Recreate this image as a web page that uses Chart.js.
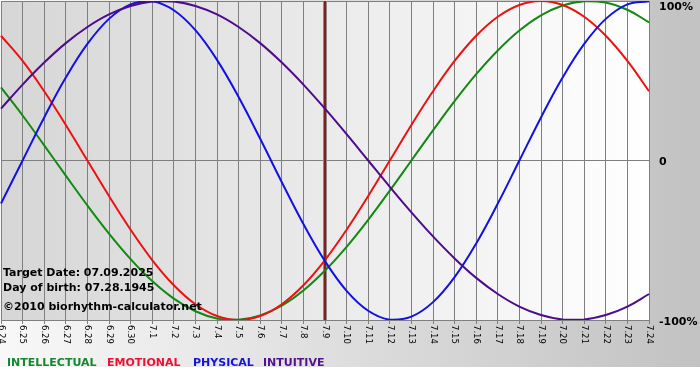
<!DOCTYPE html>
<html>
<head>
<meta charset="utf-8">
<script src="https://cdn.jsdelivr.net/npm/chart.js@4/dist/chart.umd.min.js"></script>
<style>
html,body{margin:0;padding:0;background:#fff;}
canvas{display:block;}
</style>
</head>
<body>
<canvas id="c" width="700" height="380"></canvas>
<script>
const labels = ['6.24','6.25','6.26','6.27','6.28','6.29','6.30','7.1','7.2','7.3','7.4','7.5','7.6','7.7','7.8','7.9','7.10','7.11','7.12','7.13','7.14','7.15','7.16','7.17','7.18','7.19','7.20','7.21','7.22','7.23','7.24'];
const physical = [-27.0, 0, 27.0, 52.0, 73.1, 88.8, 97.9, 99.8, 94.2, 81.7, 63.1, 39.8, 13.6, -13.6, -39.8, -63.1, -81.7, -94.2, -99.8, -97.9, -88.8, -73.1, -52.0, -27.0, 0, 27.0, 52.0, 73.1, 88.8, 97.9, 99.8];
const emotional = [78.2, 62.4, 43.4, 22.3, 0, -22.3, -43.4, -62.4, -78.2, -90.1, -97.5, -100, -97.5, -90.1, -78.2, -62.4, -43.4, -22.3, 0, 22.3, 43.4, 62.4, 78.2, 90.1, 97.5, 100, 97.5, 90.1, 78.2, 62.4, 43.4];
const intellectual = [45.8, 28.2, 9.5, -9.5, -28.2, -45.8, -61.8, -75.6, -86.6, -94.5, -99.0, -99.9, -97.2, -91.0, -81.5, -69.0, -54.1, -37.2, -18.9, 0, 18.9, 37.2, 54.1, 69.0, 81.5, 91.0, 97.2, 99.9, 99.0, 94.5, 86.6];
const intuitive = [32.5, 47.6, 61.4, 73.6, 83.7, 91.6, 96.9, 99.7, 99.7, 96.9, 91.6, 83.7, 73.6, 61.4, 47.6, 32.5, 16.5, 0, -16.5, -32.5, -47.6, -61.4, -73.6, -83.7, -91.6, -96.9, -99.7, -99.7, -96.9, -91.6, -83.7];
const yTickValues = [100, 0, -100];
const yTickLabels = ['100%', '0', '-100%'];
const targetLabel = '7.9';
const infoLines = ['Target Date: 07.09.2025', 'Day of birth: 07.28.1945', '\u00A92010 biorhythm-calculator.net'];
const legendNames = ['INTELLECTUAL', 'EMOTIONAL', 'PHYSICAL', 'INTUITIVE'];

const COL = {
  intellectual: '#128a12',
  emotional: '#ee1111',
  physical: '#1212e6',
  intuitive: '#4e0c8c'
};
const LEGCOL = ['#14882e', '#ee1133', '#1414dd', '#52128c'];
const legendX = [7, 107, 193, 263];

const bgPlugin = {
  id: 'bg',
  beforeDraw(chart) {
    const ctx = chart.ctx, a = chart.chartArea;
    ctx.save();
    ctx.fillStyle = '#ffffff';
    ctx.fillRect(0, 0, chart.width, chart.height);
    const g = ctx.createLinearGradient(0, 0, chart.width, 0);
    g.addColorStop(0, '#f8f8f8');
    g.addColorStop(1, '#c2c2c2');
    ctx.fillStyle = g;
    ctx.fillRect(0, 0, chart.width, 367);
    const g2 = ctx.createLinearGradient(a.left, 0, a.right, 0);
    g2.addColorStop(0, '#d6d6d6');
    g2.addColorStop(1, '#ffffff');
    ctx.fillStyle = g2;
    ctx.fillRect(a.left, a.top, a.right - a.left, a.bottom - a.top);
    ctx.restore();
  },
  beforeDatasetsDraw(chart) {
    const ctx = chart.ctx, a = chart.chartArea;
    const xs = chart.scales.x;
    const px = Math.round(xs.getPixelForValue(labels.indexOf(targetLabel)));
    ctx.save();
    ctx.fillStyle = '#8a8a8a';
    ctx.fillRect(px - 2, a.top, 4, a.bottom - a.top);
    ctx.fillStyle = '#861c1c';
    ctx.fillRect(px - 1, a.top, 2, a.bottom - a.top);
    ctx.restore();
  },
  afterDraw(chart) {
    const ctx = chart.ctx, a = chart.chartArea;
    const xs = chart.scales.x, ys = chart.scales.y;
    ctx.save();
    // x tick labels, rotated to read top-down
    ctx.fillStyle = '#000';
    ctx.font = '8.5px "DejaVu Sans", Verdana, sans-serif';
    ctx.textAlign = 'left';
    ctx.textBaseline = 'middle';
    labels.forEach((lb, i) => {
      const x = xs.getPixelForTick(i);
      ctx.save();
      ctx.translate(x, a.bottom + 5);
      ctx.rotate(Math.PI / 2);
      ctx.fillText(lb, 0, 0);
      ctx.restore();
    });
    // y labels on the right
    ctx.font = 'bold 11px "DejaVu Sans", Verdana, sans-serif';
    ctx.textBaseline = 'middle';
    yTickValues.forEach((v, i) => {
      let y = ys.getPixelForValue(v) + 2;
      if (y < 7) y = 7;
      ctx.fillText(yTickLabels[i], a.right + 10, y);
    });
    // info text
    ctx.textBaseline = 'alphabetic';
    ctx.fillText(infoLines[0], 3, 276);
    ctx.fillText(infoLines[1], 3, 291);
    ctx.fillText(infoLines[2], 3, 310);
    // legend
    legendNames.forEach((n, i) => {
      ctx.fillStyle = LEGCOL[i];
      ctx.fillText(n, legendX[i], 366);
    });
    ctx.restore();
  }
};

new Chart(document.getElementById('c'), {
  type: 'line',
  data: {
    labels: labels,
    datasets: [
      { label: 'INTUITIVE', data: intuitive, borderColor: COL.intuitive },
      { label: 'PHYSICAL', data: physical, borderColor: COL.physical },
      { label: 'EMOTIONAL', data: emotional, borderColor: COL.emotional },
      { label: 'INTELLECTUAL', data: intellectual, borderColor: COL.intellectual }
    ]
  },
  options: {
    responsive: false,
    animation: false,
    devicePixelRatio: 1,
    layout: { padding: { top: 1, left: 1, right: 0, bottom: 0 } },
    elements: {
      line: { borderWidth: 2, tension: 0.4, fill: false },
      point: { radius: 0 }
    },
    plugins: { legend: { display: false }, tooltip: { enabled: false } },
    scales: {
      x: {
        offset: false,
        grid: { color: '#7f7f7f', lineWidth: 1, drawTicks: true, tickLength: 4, tickColor: '#7f7f7f' },
        border: { display: true, color: '#7f7f7f' },
        ticks: { display: false },
        afterFit(s) { s.height = 60; }
      },
      y: {
        position: 'right',
        min: -100, max: 100,
        ticks: { display: false, stepSize: 100 },
        grid: { color: '#7f7f7f', lineWidth: 1, drawTicks: false },
        border: { display: true, color: '#7f7f7f' },
        afterFit(s) { s.width = 51; }
      }
    }
  },
  plugins: [bgPlugin]
});
</script>
</body>
</html>
